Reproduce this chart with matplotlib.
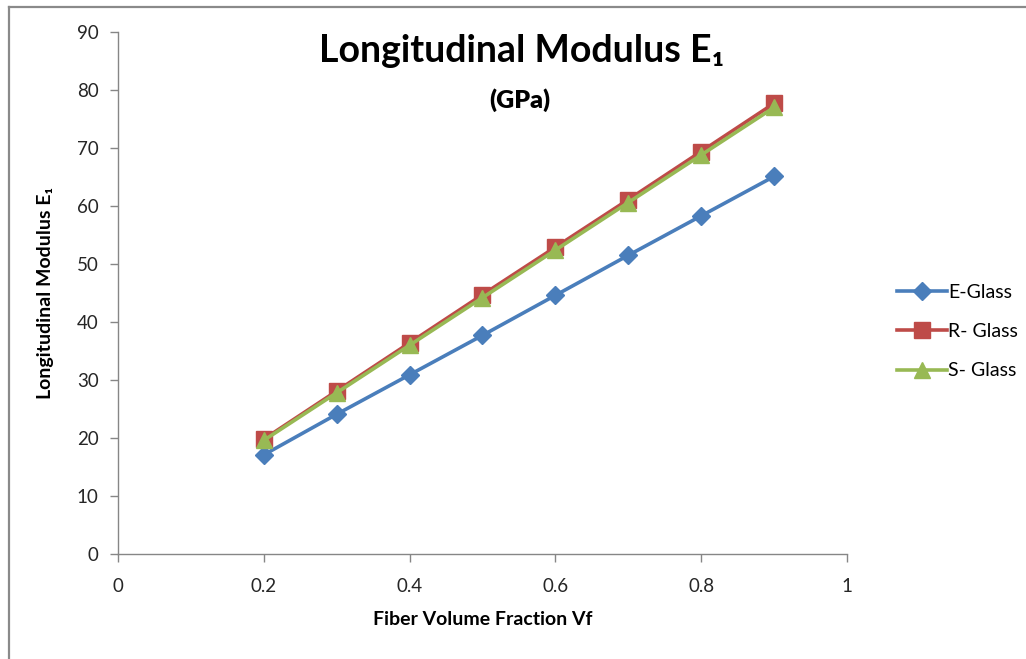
import matplotlib
matplotlib.use("Agg")
import matplotlib.pyplot as plt
from matplotlib.lines import Line2D

# fiber volume fraction and modulus (GPa)
vf = [0.2, 0.3, 0.4, 0.5, 0.6, 0.7, 0.8, 0.9]
e_glass = [17.1, 24.1, 30.9, 37.7, 44.6, 51.5, 58.3, 65.1]
r_glass = [19.8, 28.1, 36.4, 44.7, 52.9, 61.1, 69.4, 77.7]
s_glass = [19.6, 27.8, 36.0, 44.2, 52.4, 60.6, 68.8, 77.0]

xticks = [0, 0.2, 0.4, 0.6, 0.8, 1]
xticklabels = ["0", "0.2", "0.4", "0.6", "0.8", "1"]
yticks = list(range(0, 91, 10))

plt.rcParams['font.family'] = ['Lato', 'DejaVu Sans']

fig = plt.figure(figsize=(10.26, 6.59), dpi=100)
ax = fig.add_axes([0.115, 0.1593, 0.7105, 0.7921])

ax.plot(vf, e_glass, color='#4A7EBB', lw=2.6, marker='D', ms=9, label='E-Glass')
ax.plot(vf, r_glass, color='#BE4B48', lw=2.6, marker='s', ms=11, label='R- Glass')
ax.plot(vf, s_glass, color='#98B954', lw=2.6, marker='^', ms=12, label='S- Glass')

ax.set_xlim(0, 1)
ax.set_ylim(0, 90)
ax.set_xticks(xticks)
ax.set_xticklabels(xticklabels)
ax.set_yticks(yticks)
for s in ['top', 'right']:
    ax.spines[s].set_visible(False)
for s in ['left', 'bottom']:
    ax.spines[s].set_color('#868686')
    ax.spines[s].set_linewidth(1)
ax.tick_params(axis='both', colors='#868686', length=6, width=1, labelsize=13.5,
               labelcolor='#262626')
ax.tick_params(axis='x', pad=11)
ax.tick_params(axis='y', pad=8)

ax.set_xlabel('Fiber Volume Fraction Vf', fontsize=14, fontweight='bold', labelpad=12)
ax.set_ylabel('Longitudinal Modulus E\u2081', fontsize=14, fontweight='bold', labelpad=16)

fig.text(0.508, 0.922, 'Longitudinal Modulus E\u2081', ha='center', va='center',
         fontsize=27, fontweight='bold')
fig.text(0.507, 0.848, '(GPa)', ha='center', va='center', fontsize=18, fontweight='heavy')

fig.legend(loc='center left', bbox_to_anchor=(0.857, 0.497), frameon=False,
           fontsize=14, handlelength=2.6, labelspacing=1.15, handletextpad=0.05)

# outer chart border (partly cropped in the original)
fig.add_artist(Line2D([0.0085, 0.0085], [0, 0.99], transform=fig.transFigure,
                      color='#8a8a8a', lw=1.6))
fig.add_artist(Line2D([0.0085, 1], [0.99, 0.99], transform=fig.transFigure,
                      color='#8a8a8a', lw=1.6))

fig.savefig('out.png', dpi=100, facecolor='white')
